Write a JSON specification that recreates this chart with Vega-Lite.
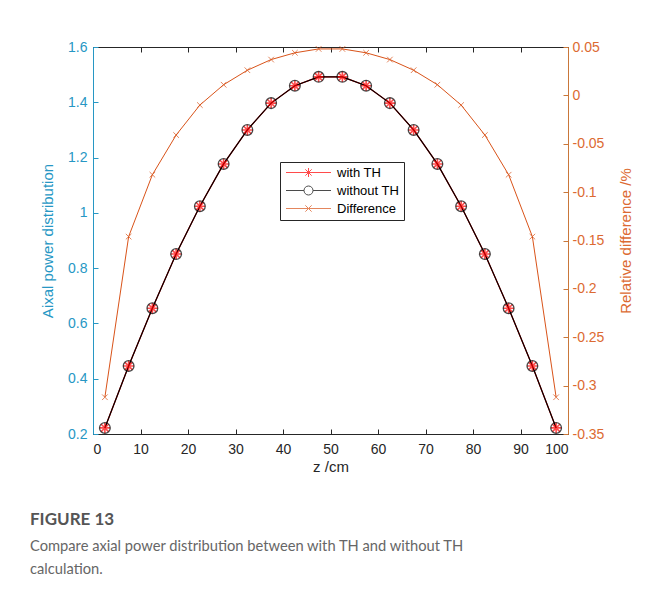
{
  "$schema": "https://vega.github.io/schema/vega-lite/v6.json",
  "width": 475,
  "height": 387,
  "autosize": {"type": "none"},
  "padding": {"left": 93, "top": 47, "right": 94, "bottom": 161},
  "background": "white",
  "config": {
    "view": {"stroke": "#262626", "strokeWidth": 1},
    "axis": {"grid": false, "labelFont": "Liberation Sans", "titleFont": "Liberation Sans", "labelFontSize": 14, "titleFontSize": 15, "titleFontWeight": "normal", "tickSize": -5, "labelPadding": 9}
  },
  "title": {
    "text": "FIGURE 13",
    "subtitle": ["Compare axial power distribution between with TH and without TH", "calculation."],
    "orient": "bottom",
    "anchor": "start",
    "frame": "group",
    "dx": -63,
    "offset": 38,
    "font": "Lato",
    "fontSize": 17,
    "fontWeight": "bold",
    "color": "#555555",
    "subtitleFont": "Lato",
    "subtitleFontSize": 14.7,
    "subtitleColor": "#666666",
    "subtitleLineHeight": 23,
    "subtitlePadding": 10
  },
  "data": {"values": [
    {"z": 2.5, "series": "with TH", "v": 0.222},
    {"z": 7.5, "series": "with TH", "v": 0.446},
    {"z": 12.5, "series": "with TH", "v": 0.655},
    {"z": 17.5, "series": "with TH", "v": 0.851},
    {"z": 22.5, "series": "with TH", "v": 1.024},
    {"z": 27.5, "series": "with TH", "v": 1.177},
    {"z": 32.5, "series": "with TH", "v": 1.300},
    {"z": 37.5, "series": "with TH", "v": 1.397},
    {"z": 42.5, "series": "with TH", "v": 1.460},
    {"z": 47.5, "series": "with TH", "v": 1.492},
    {"z": 52.5, "series": "with TH", "v": 1.492},
    {"z": 57.5, "series": "with TH", "v": 1.460},
    {"z": 62.5, "series": "with TH", "v": 1.397},
    {"z": 67.5, "series": "with TH", "v": 1.300},
    {"z": 72.5, "series": "with TH", "v": 1.177},
    {"z": 77.5, "series": "with TH", "v": 1.024},
    {"z": 82.5, "series": "with TH", "v": 0.851},
    {"z": 87.5, "series": "with TH", "v": 0.655},
    {"z": 92.5, "series": "with TH", "v": 0.446},
    {"z": 97.5, "series": "with TH", "v": 0.222},
    {"z": 2.5, "series": "without TH", "v": 0.222},
    {"z": 7.5, "series": "without TH", "v": 0.446},
    {"z": 12.5, "series": "without TH", "v": 0.655},
    {"z": 17.5, "series": "without TH", "v": 0.851},
    {"z": 22.5, "series": "without TH", "v": 1.024},
    {"z": 27.5, "series": "without TH", "v": 1.177},
    {"z": 32.5, "series": "without TH", "v": 1.300},
    {"z": 37.5, "series": "without TH", "v": 1.397},
    {"z": 42.5, "series": "without TH", "v": 1.460},
    {"z": 47.5, "series": "without TH", "v": 1.492},
    {"z": 52.5, "series": "without TH", "v": 1.492},
    {"z": 57.5, "series": "without TH", "v": 1.460},
    {"z": 62.5, "series": "without TH", "v": 1.397},
    {"z": 67.5, "series": "without TH", "v": 1.300},
    {"z": 72.5, "series": "without TH", "v": 1.177},
    {"z": 77.5, "series": "without TH", "v": 1.024},
    {"z": 82.5, "series": "without TH", "v": 0.851},
    {"z": 87.5, "series": "without TH", "v": 0.655},
    {"z": 92.5, "series": "without TH", "v": 0.446},
    {"z": 97.5, "series": "without TH", "v": 0.222},
    {"z": 2.5, "series": "Difference", "v": -0.312},
    {"z": 7.5, "series": "Difference", "v": -0.146},
    {"z": 12.5, "series": "Difference", "v": -0.082},
    {"z": 17.5, "series": "Difference", "v": -0.041},
    {"z": 22.5, "series": "Difference", "v": -0.010},
    {"z": 27.5, "series": "Difference", "v": 0.011},
    {"z": 32.5, "series": "Difference", "v": 0.026},
    {"z": 37.5, "series": "Difference", "v": 0.037},
    {"z": 42.5, "series": "Difference", "v": 0.044},
    {"z": 47.5, "series": "Difference", "v": 0.048},
    {"z": 52.5, "series": "Difference", "v": 0.048},
    {"z": 57.5, "series": "Difference", "v": 0.044},
    {"z": 62.5, "series": "Difference", "v": 0.037},
    {"z": 67.5, "series": "Difference", "v": 0.026},
    {"z": 72.5, "series": "Difference", "v": 0.011},
    {"z": 77.5, "series": "Difference", "v": -0.010},
    {"z": 82.5, "series": "Difference", "v": -0.041},
    {"z": 87.5, "series": "Difference", "v": -0.082},
    {"z": 92.5, "series": "Difference", "v": -0.146},
    {"z": 97.5, "series": "Difference", "v": -0.312}
  ]},
  "resolve": {"scale": {"y": "independent"}, "axis": {"x": "independent", "y": "independent"}},
  "layer": [
    {
      "transform": [{"filter": "datum.series !== 'Difference'"}],
      "encoding": {
        "x": {"field": "z", "type": "quantitative", "scale": {"domain": [0, 100], "nice": false},
          "axis": {"title": "z /cm", "values": [0,10,20,30,40,50,60,70,80,90,100], "labelFont": "Liberation Sans", "labelFontSize": 14, "titleFont": "Liberation Sans", "titleFontSize": 15, "labelColor": "#262626", "titleColor": "#262626", "domainColor": "#262626", "tickColor": "#262626", "labelPadding": 13, "titlePadding": 3}},
        "y": {"field": "v", "type": "quantitative", "scale": {"domain": [0.2, 1.6], "nice": false, "zero": false},
          "axis": {"title": "Aixal power distribution", "values": [0.2,0.4,0.6,0.8,1,1.2,1.4,1.6], "format": "~g", "labelFont": "Liberation Sans", "labelFontSize": 14, "titleFont": "Liberation Sans", "titleFontSize": 15, "labelColor": "#2797c4", "titleColor": "#2797c4", "domainColor": "#2797c4", "tickColor": "#2797c4", "labelPadding": 11, "titlePadding": 12}},
        "color": {"field": "series", "type": "nominal", "scale": {"domain": ["with TH", "without TH", "Difference"], "range": ["#ff0000", "#000000", "#d95319"]}}
      },
      "layer": [
        {"mark": {"type": "line", "strokeWidth": 1.2}},
        {"transform": [{"filter": "datum.series === 'with TH'"}],
         "mark": {"type": "point", "filled": false, "strokeWidth": 1.6, "size": 110, "shape": "M0,-1V1M-1,0H1M-0.7,-0.7L0.7,0.7M-0.7,0.7L0.7,-0.7"}},
        {"transform": [{"filter": "datum.series === 'without TH'"}],
         "mark": {"type": "point", "filled": false, "strokeWidth": 1.3, "size": 115, "shape": "circle"}}
      ]
    },
    {
      "transform": [{"filter": "datum.series === 'Difference'"}],
      "encoding": {
        "x": {"field": "z", "type": "quantitative", "scale": {"domain": [0, 100], "nice": false},
          "axis": {"orient": "top", "title": null, "labels": false, "domain": false, "values": [0,10,20,30,40,50,60,70,80,90,100], "tickColor": "#262626"}},
        "y": {"field": "v", "type": "quantitative", "scale": {"domain": [-0.35, 0.05], "nice": false, "zero": false},
          "axis": {"orient": "right", "title": "Relative difference /%", "titleAngle": 270, "values": [-0.35,-0.3,-0.25,-0.2,-0.15,-0.1,-0.05,0,0.05], "labelExpr": "replace(format(datum.value, '~g'), '\u2212', '-')", "labelFont": "Liberation Sans", "labelFontSize": 14, "titleFont": "Liberation Sans", "titleFontSize": 15, "labelColor": "#dc6a32", "titleColor": "#dc6a32", "domainColor": "#c9773a", "tickColor": "#c9773a", "titlePadding": 30}},
        "color": {"field": "series", "type": "nominal"}
      },
      "layer": [
        {"mark": {"type": "line", "strokeWidth": 1}},
        {"mark": {"type": "point", "filled": false, "strokeWidth": 1, "size": 64, "shape": "M-0.7,-0.7L0.7,0.7M-0.7,0.7L0.7,-0.7"}},
        {"transform": [{"filter": "datum.z > 1000"}],
         "mark": {"type": "point", "filled": false, "strokeWidth": 1, "size": 81},
         "encoding": {
           "shape": {"field": "series", "type": "nominal",
             "scale": {"domain": ["with TH", "without TH", "Difference"], "range": ["M-1,0H9M4,-1V1M3.3,-0.7L4.7,0.7M3.3,0.7L4.7,-0.7", "M-1,0H3M5,0H9M3,0A1,1,0,1,1,5,0A1,1,0,1,1,3,0", "M-1,0H9M3.3,-0.7L4.7,0.7M3.3,0.7L4.7,-0.7"]},
             "legend": {
               "title": null, "orient": "none", "legendX": 187, "legendY": 115,
               "strokeColor": "#262626", "fillColor": "white", "padding": 4,
               "symbolSize": 81, "symbolStrokeWidth": 1, "labelOffset": 40, "labelFont": "Liberation Sans", "labelFontSize": 13, "labelColor": "#000000", "rowPadding": 4
             }}
         }}
      ]
    }
  ]
}
